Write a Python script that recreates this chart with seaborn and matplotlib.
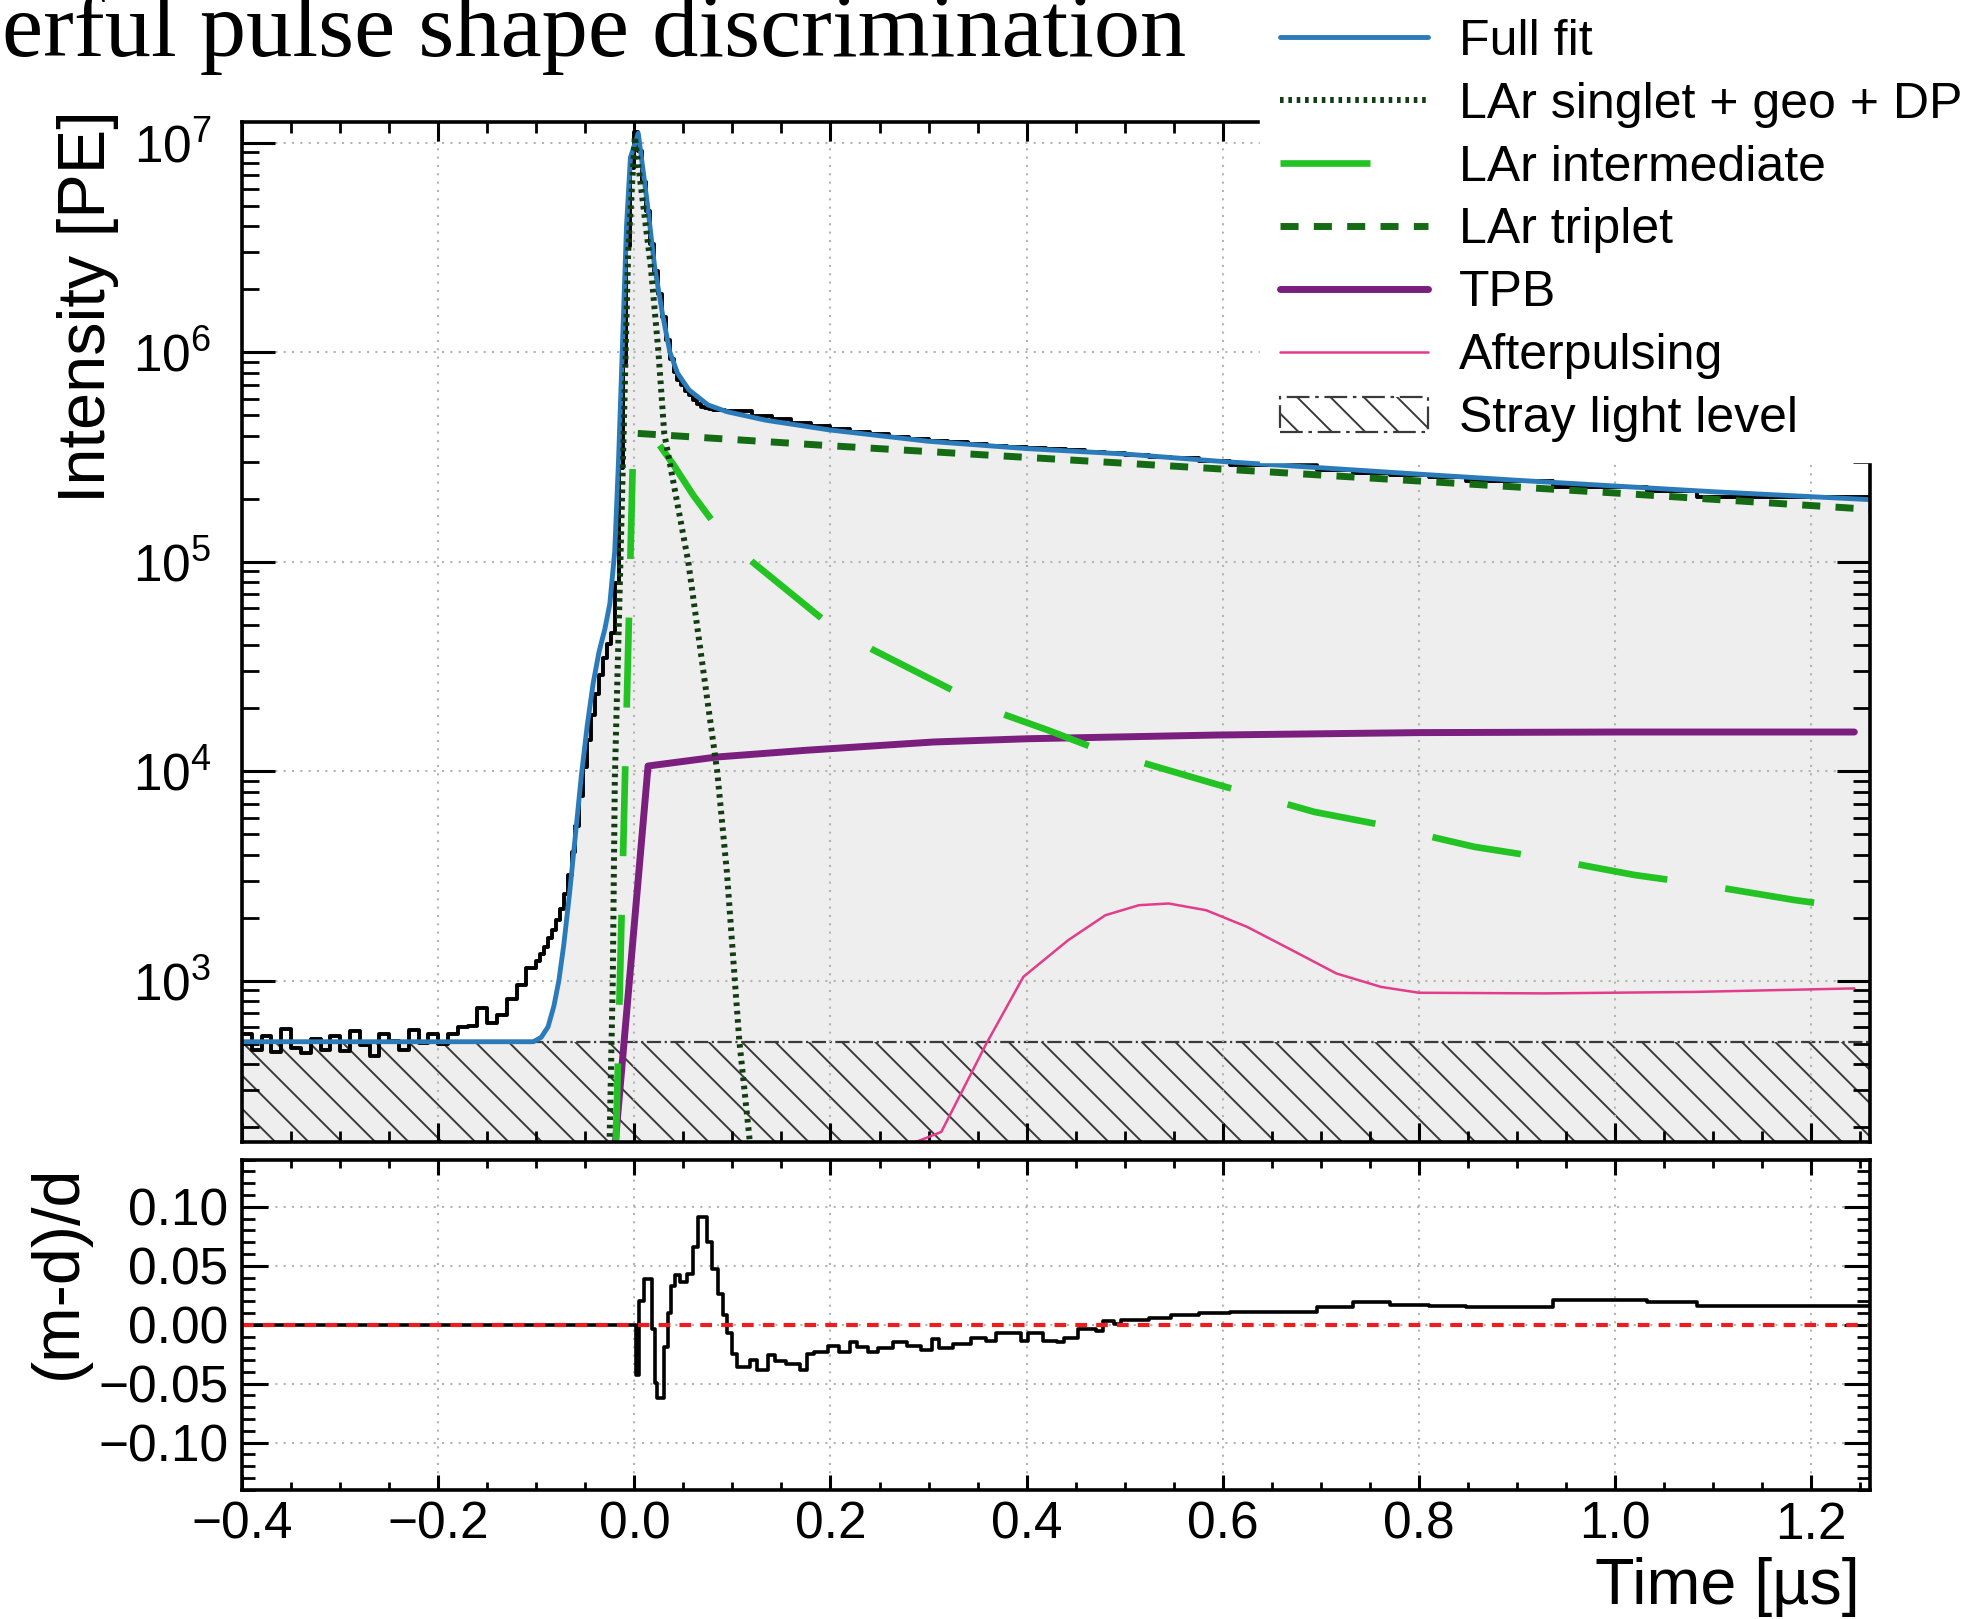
import numpy as np
import matplotlib
matplotlib.use("Agg")
import matplotlib.pyplot as plt
import matplotlib.ticker as mticker
import seaborn as sns

# ---------------- measured waveform (histogram, variable binning) ----------------
data_edges_us = [
    -0.40, -0.39, -0.38, -0.37, -0.36, -0.35, -0.34, -0.33, -0.32, -0.31,
    -0.30, -0.29, -0.28, -0.27, -0.26, -0.25, -0.24, -0.23, -0.22, -0.21,
    -0.20, -0.19, -0.18, -0.17, -0.16, -0.15, -0.14, -0.13, -0.12, -0.11,
    -0.100, -0.096, -0.092, -0.088, -0.084, -0.080, -0.076, -0.072, -0.068, -0.064,
    -0.060, -0.056, -0.052, -0.048, -0.044, -0.040, -0.036, -0.032, -0.028, -0.024,
    -0.020, -0.016, -0.012, -0.008, -0.004, 0.000, 0.004, 0.008, 0.012, 0.016,
    0.020, 0.024, 0.028, 0.032, 0.036, 0.040, 0.044, 0.048, 0.052, 0.056,
    0.060, 0.064, 0.068, 0.072, 0.076, 0.080, 0.084, 0.088, 0.092, 0.096,
    0.10, 0.12, 0.14, 0.16, 0.18, 0.20, 0.22, 0.24, 0.26, 0.28,
    0.30, 0.32, 0.34, 0.36, 0.38, 0.40, 0.42, 0.44, 0.46, 0.48,
    0.500, 0.525, 0.547, 0.576, 0.607, 0.696, 0.733, 0.771, 0.810, 0.848,
    0.937, 1.033, 1.084, 1.260,
]
data_pe = [
    560, 470, 545, 455, 590, 480, 450, 530, 470, 545,
    460, 575, 495, 440, 560, 515, 470, 580, 505, 560,
    500, 560, 600, 610, 740, 630, 690, 820, 950, 1150,
    1250, 1350, 1450, 1600, 1750, 1950, 2200, 2600, 3200, 4100,
    5500, 7600, 1.05e4, 1.41e4, 1.86e4, 2.34e4, 2.88e4, 3.47e4, 4.07e4, 4.57e4,
    7.9e4, 2.8e5, 8.9e5, 3.2e6, 7.6e6, 1.12e7, 9.1e6, 6.5e6, 4.7e6, 3.3e6,
    2.45e6, 1.9e6, 1.48e6, 1.14e6, 9.25e5, 8.07e5, 7.38e5, 7.0e5, 6.56e5, 6.22e5,
    5.92e5, 5.69e5, 5.48e5, 5.41e5, 5.37e5, 5.31e5, 5.31e5, 5.30e5, 5.27e5, 5.25e5,
    5.22e5, 4.97e5, 4.78e5, 4.62e5, 4.44e5, 4.29e5, 4.17e5, 4.08e5, 3.96e5, 3.87e5,
    3.78e5, 3.73e5, 3.65e5, 3.58e5, 3.52e5, 3.48e5, 3.46e5, 3.40e5, 3.35e5, 3.29e5,
    3.24e5, 3.18e5, 3.12e5, 3.03e5, 2.89e5, 2.74e5, 2.66e5, 2.59e5, 2.53e5, 2.44e5,
    2.27e5, 2.18e5, 2.03e5,
]

# ---------------- fit model and its components ----------------
fit_t = [-0.400, -0.103, -0.095, -0.088, -0.082, -0.077, -0.072, -0.066, -0.060, -0.054,
         -0.048, -0.042, -0.036, -0.030, -0.025, -0.020, -0.016, -0.012, -0.008, -0.004,
         0.004, 0.0128, 0.0207, 0.0286, 0.0363, 0.0441, 0.0558, 0.0753, 0.0948, 0.134,
         0.199, 0.30, 0.40, 0.50, 0.60, 0.70, 0.80, 0.90, 1.00, 1.10, 1.26]
fit_pe = [512, 512, 537, 603, 759, 1000, 1480, 2630, 5010, 9550,
          1.66e4, 2.63e4, 3.72e4, 4.79e4, 6.31e4, 1.12e5, 3.16e5, 1.12e6, 3.98e6, 8.5e6,
          1.11e7, 5.33e6, 2.56e6, 1.53e6, 1.0e6, 7.94e5, 6.61e5, 5.6e5, 5.2e5, 4.74e5,
          4.26e5, 3.76e5, 3.47e5, 3.27e5, 3.01e5, 2.81e5, 2.62e5, 2.45e5, 2.30e5, 2.16e5, 1.98e5]

singlet_t = [-0.0255, -0.022, -0.0199, -0.013, -0.0063, 0.0005, 0.0168, 0.0246, 0.0305,
             0.055, 0.0845, 0.0944, 0.1025, 0.107, 0.119]
singlet_pe = [150, 1000, 9200, 1.66e5, 3.0e6, 1.07e7, 2.56e6, 1.0e6, 4.1e5,
              1.0e5, 1.0e4, 3300, 1000, 520, 150]

intermediate_t = [-0.019, -0.001, 0.010, 0.024, 0.040, 0.060, 0.0957, 0.1925, 0.2435,
                  0.3643, 0.422, 0.475, 0.5906, 0.6934, 0.754, 0.8565, 0.921, 1.0198, 1.0806,
                  1.183, 1.26]
intermediate_pe = [150, 3.88e5, 3.84e5, 3.7e5, 2.9e5, 2.08e5, 1.24e5, 5.3e4, 3.8e4,
                   1.96e4, 1.57e4, 1.26e4, 8750, 6400, 5640, 4360, 3910, 3200, 2920,
                   2430, 2170]

triplet_t = [0.0035, 0.2, 0.4, 0.6, 0.8, 1.0, 1.26]
triplet_pe = [4.1e5, 3.58e5, 3.15e5, 2.77e5, 2.43e5, 2.13e5, 1.78e5]

tpb_t = [-0.0215, 0.014, 0.084, 0.175, 0.305, 0.40, 0.594, 0.80, 1.005, 1.244]
tpb_pe = [130, 1.06e4, 1.17e4, 1.26e4, 1.38e4, 1.43e4, 1.49e4, 1.53e4, 1.54e4, 1.54e4]

afterpulse_t = [0.280, 0.313, 0.3588, 0.3967, 0.4424, 0.4803, 0.5145, 0.5449, 0.583, 0.6246,
                0.6703, 0.7159, 0.7615, 0.80, 0.9287, 1.0807, 1.244]
afterpulse_pe = [165, 190, 500, 1045, 1563, 2056, 2296, 2339, 2173, 1811,
                 1403, 1084, 935, 877, 871, 885, 920]

stray_light_pe = 512

# ---------------- relative residuals (m-d)/d ----------------
resid_edges_us = [
    -0.4, 0.0012, 0.0049, 0.0103, 0.0176, 0.0213, 0.0231, 0.0304, 0.034, 0.0377,
    0.0413, 0.0468, 0.054, 0.0595, 0.065, 0.0741, 0.0795, 0.085, 0.0905, 0.0941,
    0.0996, 0.105, 0.1178, 0.125, 0.136, 0.1433, 0.1542, 0.1688, 0.176, 0.1833,
    0.1979, 0.2088, 0.2198, 0.227, 0.238, 0.2489, 0.2635, 0.278, 0.2926, 0.3035,
    0.3108, 0.3254, 0.3436, 0.3582, 0.3691, 0.3946, 0.4019, 0.4165, 0.431, 0.4383,
    0.4529, 0.4711, 0.4784, 0.4893, 0.4966, 0.525, 0.547, 0.576, 0.607, 0.696,
    0.733, 0.771, 0.81, 0.848, 0.937, 1.033, 1.084, 1.26,
]
resid_values = [
    0.0, -0.043, 0.020, 0.039, -0.004, -0.049, -0.062, -0.019, 0.010, 0.033,
    0.042, 0.036, 0.043, 0.066, 0.091, 0.070, 0.047, 0.026, 0.008, -0.007,
    -0.025, -0.036, -0.030, -0.038, -0.026, -0.031, -0.033, -0.038, -0.025, -0.023,
    -0.018, -0.023, -0.015, -0.019, -0.023, -0.020, -0.015, -0.018, -0.021, -0.012,
    -0.020, -0.016, -0.011, -0.014, -0.007, -0.014, -0.007, -0.014, -0.015, -0.011,
    -0.004, -0.005, 0.003, 0.001, 0.004, 0.006, 0.008, 0.010, 0.0105, 0.015,
    0.019, 0.017, 0.016, 0.015, 0.021, 0.019, 0.0156,
]

x_tick_values = [-0.4, -0.2, 0.0, 0.2, 0.4, 0.6, 0.8, 1.0, 1.2]
resid_tick_values = [-0.10, -0.05, 0.00, 0.05, 0.10]

# ---------------- style ----------------
sns.set_theme(style="ticks")
plt.rcParams.update({
    "font.family": ["Liberation Sans", "DejaVu Sans"],
    "mathtext.fontset": "custom",
    "mathtext.rm": "Liberation Sans",
    "mathtext.it": "Liberation Sans:italic",
    "mathtext.bf": "Liberation Sans:bold",
    "axes.edgecolor": "black",
    "axes.labelcolor": "black",
    "text.color": "black",
    "xtick.color": "black",
    "ytick.color": "black",
    "axes.linewidth": 2.6,
    "axes.axisbelow": "line",
    "hatch.linewidth": 1.4,
    "axes.unicode_minus": True,
})

X_MIN, X_MAX = -0.4, 1.26
Y_MIN, Y_MAX = 170, 1.26e7
FLOOR = 100

fig = plt.figure(figsize=(19.68, 16.19), dpi=100)
fig.patch.set_facecolor("white")
ax = fig.add_axes([0.1230, 0.2946, 0.8272, 0.6302])
axr = fig.add_axes([0.1230, 0.0798, 0.8272, 0.2039], sharex=ax)


def last_line(a):
    return a.get_lines()[-1]


# light area below the full model
ax.fill_between(fit_t, FLOOR, fit_pe, color="#eeeeee", lw=0, zorder=1.0)
# stray light band
stray = ax.fill_between([X_MIN, X_MAX], FLOOR, stray_light_pe, facecolor="none",
                        edgecolor="#3a3a3a", hatch="\\", linestyle="-.", lw=1.6,
                        zorder=1.1, label="Stray light level")

# measured histogram
sns.lineplot(x=data_edges_us, y=data_pe + [data_pe[-1]], ax=ax, color="black",
             lw=2.8, drawstyle="steps-post", estimator=None, sort=False, zorder=2.0)

# fit and components
sns.lineplot(x=fit_t, y=fit_pe, ax=ax, color="#2b7bba", lw=3.5, estimator=None,
             sort=False, zorder=2.2)
h_fit = last_line(ax)
sns.lineplot(x=singlet_t, y=singlet_pe, ax=ax, color="#123c12", lw=4.3, estimator=None,
             sort=False, zorder=2.6)
h_singlet = last_line(ax)
h_singlet.set_linestyle((0, (0.6, 0.8)))
h_singlet.set_dash_capstyle("butt")
sns.lineplot(x=intermediate_t, y=intermediate_pe, ax=ax, color="#22c322", lw=4.8,
             estimator=None, sort=False, zorder=2.4)
h_inter = last_line(ax)
h_inter.set_linestyle((0, (13.5, 8.8)))
h_inter.set_dash_capstyle("butt")
sns.lineplot(x=triplet_t, y=triplet_pe, ax=ax, color="#146b14", lw=5.0, estimator=None,
             sort=False, zorder=2.4)
h_trip = last_line(ax)
h_trip.set_linestyle((0, (2.6, 2.2)))
h_trip.set_dash_capstyle("butt")
sns.lineplot(x=tpb_t, y=tpb_pe, ax=ax, color="#7a1f7e", lw=5.0, estimator=None,
             sort=False, zorder=2.3)
h_tpb = last_line(ax)
sns.lineplot(x=afterpulse_t, y=afterpulse_pe, ax=ax, color="#e23c8a", lw=1.8,
             estimator=None, sort=False, zorder=2.3)
h_ap = last_line(ax)

ax.set_yscale("log")
ax.set_xlim(X_MIN, X_MAX)
ax.set_ylim(Y_MIN, Y_MAX)

# residual panel
sns.lineplot(x=resid_edges_us, y=resid_values + [resid_values[-1]], ax=axr,
             color="black", lw=2.6, drawstyle="steps-post", estimator=None, sort=False,
             zorder=2.0)
sns.lineplot(x=[X_MIN, X_MAX], y=[0.0, 0.0], ax=axr, color="#ee1c1c", lw=3.0,
             estimator=None, sort=False, zorder=2.5)
last_line(axr).set_linestyle((0, (2.8, 2.2)))
axr.set_ylim(-0.14, 0.14)

# ---------------- axes cosmetics ----------------
grid_kw = dict(color="#b4b4b4", lw=1.5, linestyle=(0, (1, 3)))
for a in (ax, axr):
    a.grid(True, which="major", axis="both", **grid_kw)
    for s in a.spines.values():
        s.set_linewidth(2.6)
        s.set_color("black")
        s.set_visible(True)
    a.set_facecolor("white")

ax.xaxis.set_major_locator(mticker.FixedLocator(x_tick_values))
ax.xaxis.set_minor_locator(mticker.MultipleLocator(0.05))
ax.yaxis.set_major_locator(mticker.LogLocator(base=10, numticks=20))
ax.yaxis.set_minor_locator(mticker.LogLocator(base=10, subs=np.arange(2, 10) * 1.0,
                                              numticks=40))
ax.yaxis.set_minor_formatter(mticker.NullFormatter())

ax.tick_params(axis="x", which="major", direction="in", length=14, width=2.2,
               top=True, bottom=True, labelbottom=False)
ax.tick_params(axis="x", which="minor", direction="in", length=8, width=2.0,
               top=True, bottom=True)
ax.tick_params(axis="y", which="major", direction="in", length=24, width=2.2,
               left=True, right=True, labelsize=37, pad=22)
ax.tick_params(axis="y", which="minor", direction="in", length=12, width=2.0,
               left=True, right=True)


def fmt_x(v, pos):
    if abs(v) < 1e-9:
        v = 0.0
    return f"{v:.1f}".replace("-", "\u2212")


def fmt_r(v, pos):
    if abs(v) < 1e-9:
        v = 0.0
    return f"{v:.2f}".replace("-", "\u2212")


axr.xaxis.set_major_formatter(mticker.FuncFormatter(fmt_x))
axr.yaxis.set_major_locator(mticker.FixedLocator(resid_tick_values))
axr.yaxis.set_minor_locator(mticker.MultipleLocator(0.01))
axr.yaxis.set_major_formatter(mticker.FuncFormatter(fmt_r))
axr.tick_params(axis="x", which="major", direction="in", length=11, width=2.2,
                top=True, bottom=True, labelsize=37, pad=8)
axr.tick_params(axis="x", which="minor", direction="in", length=6, width=2.0,
                top=True, bottom=True)
axr.tick_params(axis="y", which="major", direction="in", length=19, width=2.2,
                left=True, right=True, labelsize=37, pad=10)
axr.tick_params(axis="y", which="minor", direction="in", length=9.5, width=2.0,
                left=True, right=True)

ax.set_xlabel("")
ax.set_ylabel("Intensity [PE]", fontsize=48, loc="top")
ax.yaxis.set_label_coords(-0.0756, 1.011)
axr.set_ylabel("(m-d)/d", fontsize=48, loc="top")
axr.yaxis.set_label_coords(-0.0934, 0.985)
axr.set_xlabel("Time [\u00b5s]", fontsize=46.5, loc="right")
axr.xaxis.set_label_coords(0.994, -0.205)

# running text above the figure
fig.text(1186 / 1968, 1 - 56 / 1619, "erful pulse shape discrimination",
         family=["Liberation Serif", "DejaVu Serif"], fontsize=66.5,
         ha="right", va="baseline")

handles = [h_fit, h_singlet, h_inter, h_trip, h_tpb, h_ap, stray]
labels = ["Full fit", "LAr singlet + geo + DP", "LAr intermediate", "LAr triplet",
          "TPB", "Afterpulsing", "Stray light level"]
fig.legend(handles, labels, loc="upper left", bbox_to_anchor=(0.6403, 1.0007),
           bbox_transform=fig.transFigure, fontsize=36, frameon=True,
           facecolor="white", edgecolor="white", framealpha=1.0, fancybox=False,
           borderpad=0.4, borderaxespad=0.0, handlelength=2.95, handletextpad=0.62,
           labelspacing=0.337)

fig.savefig("out.png", dpi=100, facecolor="white")
